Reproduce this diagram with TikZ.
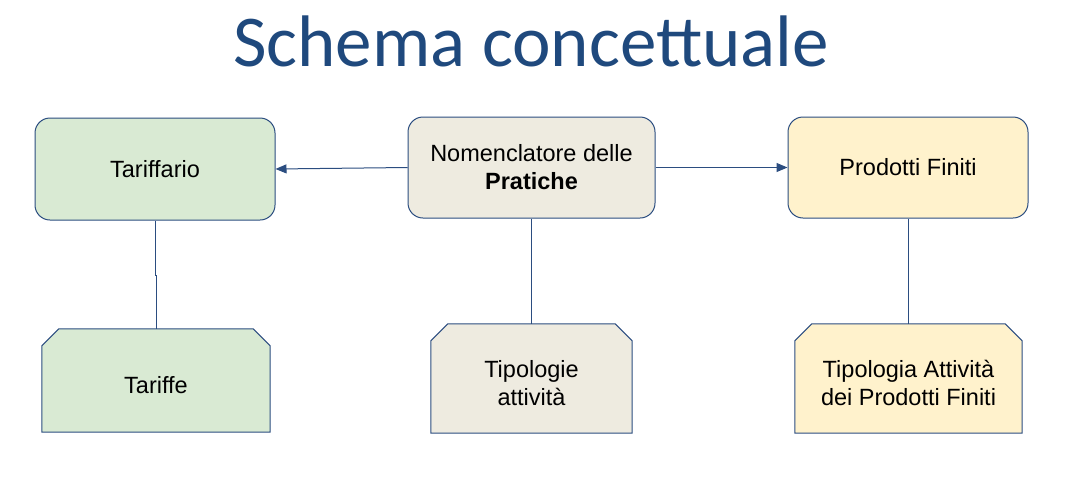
\documentclass[tikz,border=0pt]{standalone}
\usepackage{fontspec}
\setmainfont{Liberation Sans}
\newfontfamily\titlefont{Carlito}
\usetikzlibrary{arrows.meta,calc}
\definecolor{bordercol}{HTML}{2B4D80}
\definecolor{titlecol}{HTML}{1F497D}
\definecolor{greenfill}{HTML}{D9EAD3}
\definecolor{beigefill}{HTML}{EEEBE0}
\definecolor{yellowfill}{HTML}{FFF2CC}
\tikzset{
  boxtext/.style={font=\fontsize{23.5}{28}\selectfont, align=center},
  topbox/.style={boxtext, draw=bordercol, line width=1pt, rounded corners=15pt, inner sep=0pt},
  chambase/.style={draw=none, inner sep=0pt},
  chamline/.style={draw=bordercol, line width=1pt, line join=miter},
  link/.style={draw=bordercol, line width=1pt},
  arrowlink/.style={link, -{Triangle[length=11pt,width=9pt]}}
}
\newcommand{\chamfshape}[2]{%
  \draw[chamline, fill=#2] (#1.south west) -- ($(#1.north west)+(0,17)$) -- ($(#1.north west)+(17,0)$)
    -- ($(#1.north east)+(-17,0)$) -- ($(#1.north east)+(0,17)$) -- (#1.south east) -- cycle;}
\begin{document}
\begin{tikzpicture}[x=1pt,y=-1pt]
\useasboundingbox (0,0) rectangle (1075,477);
\node[font=\titlefont\fontsize{73}{80}\selectfont, text=titlecol, anchor=base] (title) at (531,66) {Schema concettuale};

\node[topbox, fill=greenfill, minimum width=240pt, minimum height=102pt] (tar) at (155,169) {Tariffario};
\node[topbox, fill=beigefill, minimum width=247pt, minimum height=101pt] (nom) at (531.5,167.5) {Nomenclatore delle\\\textbf{Pratiche}};
\node[topbox, fill=yellowfill, minimum width=240pt, minimum height=101pt] (pro) at (908,167.5) {Prodotti Finiti};

\node[chambase, minimum width=228pt, minimum height=103pt] (tf) at (156,380.5) {};
\node[chambase, minimum width=201pt, minimum height=109pt] (tip) at (531.5,378.5) {};
\node[chambase, minimum width=227pt, minimum height=109pt] (tap) at (908.5,378.5) {};
\chamfshape{tf}{greenfill}
\chamfshape{tip}{beigefill}
\chamfshape{tap}{yellowfill}
\node[boxtext] (tft) at (156,385) {Tariffe};
\node[boxtext] (tipt) at (531.5,383) {Tipologie\\attività};
\node[boxtext] (tapt) at (908.5,383) {Tipologia Attività\\dei Prodotti Finiti};

\draw[arrowlink] (nom.west) -- (tar.east);
\draw[arrowlink] (nom.east) -- (pro.west);
\draw[link] (tar.south) -- (tar.south |- 0,275) -- (tf.north |- 0,275) -- (tf.north);
\draw[link] (nom.south) -- (tip.north);
\draw[link] (pro.south) -- (pro.south |- 0,271) -- (tap.north |- 0,271) -- (tap.north);
\end{tikzpicture}
\end{document}
